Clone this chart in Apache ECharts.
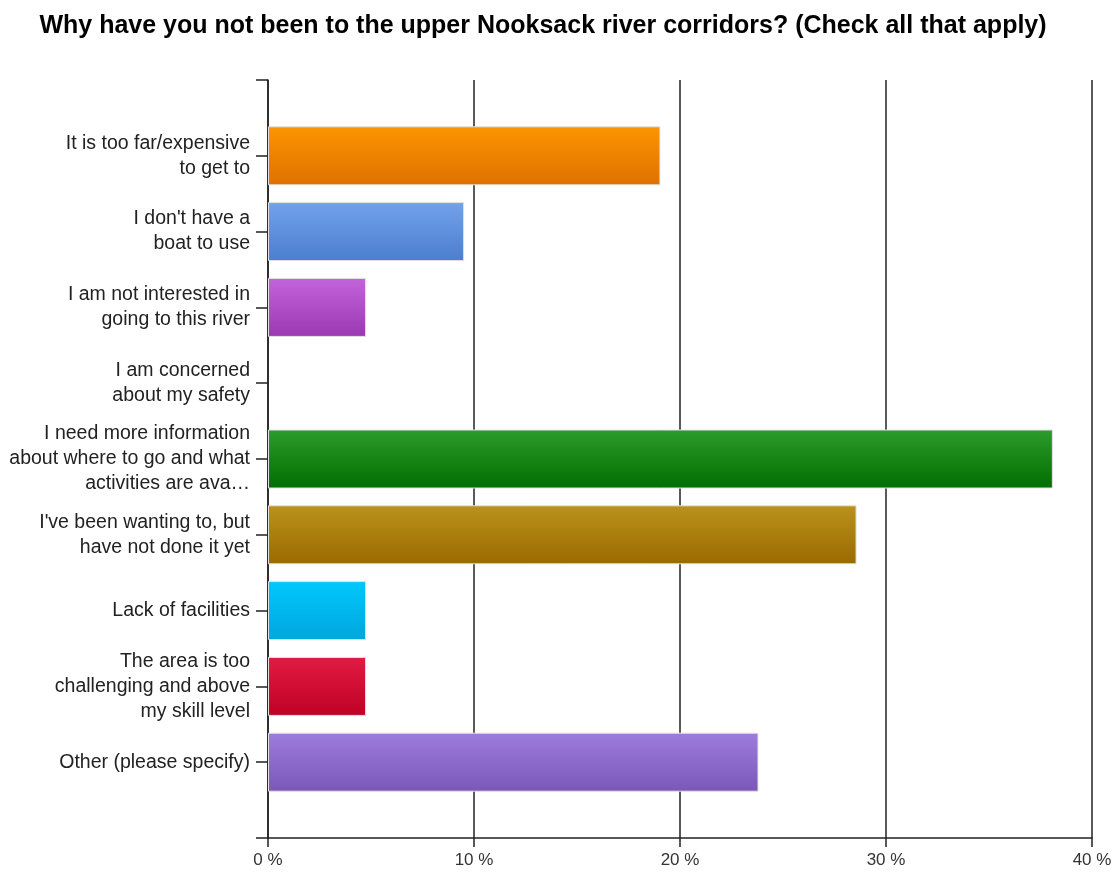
<!DOCTYPE html>
<html><head><meta charset="utf-8">
<script src="https://cdn.jsdelivr.net/npm/echarts@6/dist/echarts.min.js"></script>
<style>html,body{margin:0;padding:0;background:#fff}#c{width:1117px;height:872px}</style>
</head><body><div id="c"></div>
<script>
const titleText = 'Why have you not been to the upper Nooksack river corridors? (Check all that apply)';
const categories = [
  'It is too far/expensive\nto get to',
  "I don't have a\nboat to use",
  'I am not interested in\ngoing to this river',
  'I am concerned\nabout my safety',
  'I need more information\nabout where to go and what\nactivities are ava\u2026',
  "I've been wanting to, but\nhave not done it yet",
  'Lack of facilities',
  'The area is too\nchallenging and above\nmy skill level',
  'Other (please specify)'
];
const values = [19.05, 9.52, 4.76, 0, 38.1, 28.57, 4.76, 4.76, 23.81];
const colorTops = ['#fb9500', '#72a2ea', '#c464dc', '#888888', '#2c9c2c', '#bb921c', '#00c8fc', '#e21c44', '#9c7cdc'];
const colorBottoms = ['#df7000', '#4c7ed0', '#9a38b2', '#666666', '#006e00', '#9a6a00', '#00a6de', '#c00024', '#7a58ba'];
const xTicks = [0, 10, 20, 30, 40];

const cats = [''].concat(categories).concat(['']);
const data = [null].concat(values.map((v, i) => ({
  value: v,
  itemStyle: {
    color: new echarts.graphic.LinearGradient(0, 0, 0, 1, [
      {offset: 0, color: colorTops[i]}, {offset: 1, color: colorBottoms[i]}
    ]),
    borderWidth: v > 0 ? 1 : 0,
    opacity: v > 0 ? 1 : 0
  }
}))).concat([null]);

const chart = echarts.init(document.getElementById('c'), null, {renderer: 'canvas'});
chart.setOption({
  animation: false,
  backgroundColor: '#fff',
  title: {
    text: titleText, left: 538, top: 9, textAlign: 'center',
    textStyle: {fontFamily: 'Liberation Sans', fontWeight: 'bold', fontSize: 25, color: '#000'}
  },
  grid: {left: 268, right: 25, top: 80, bottom: 34, containLabel: false},
  xAxis: {
    type: 'value', min: xTicks[0], max: xTicks[xTicks.length - 1], interval: 10,
    axisLine: {show: true, lineStyle: {color: '#222', width: 1.5}},
    axisTick: {show: true, length: 9, lineStyle: {color: '#222', width: 1.5}},
    splitLine: {show: true, lineStyle: {color: '#222', width: 1.5}},
    axisLabel: {formatter: v => v + ' %', fontFamily: 'Liberation Sans', fontSize: 17, color: '#333', margin: 14}
  },
  yAxis: {
    type: 'category', data: cats, inverse: true, boundaryGap: false,
    axisLine: {show: true, lineStyle: {color: '#222', width: 1.5}},
    axisTick: {show: true, length: 12, interval: 0, lineStyle: {color: '#222', width: 1.5}},
    axisLabel: {interval: 0, fontFamily: 'Liberation Sans', fontSize: 19.5, color: '#222',
      lineHeight: 25, align: 'right', margin: 18},
    splitLine: {show: false}
  },
  series: [{
    type: 'bar', data: data, barWidth: 59,
    itemStyle: {borderColor: '#e2e2e2', borderWidth: 1},
    clip: false
  }]
});
</script></body></html>
